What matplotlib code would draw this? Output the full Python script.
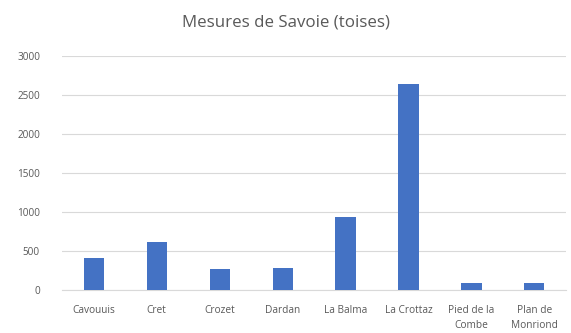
import matplotlib.pyplot as plt
import numpy as np

# data
places = ['Cavouuis', 'Cret', 'Crozet', 'Dardan', 'La Balma', 'La Crottaz',
          'Pied de la\nCombe', 'Plan de\nMonriond']
toises = [410, 620, 275, 285, 930, 2640, 85, 85]
yticks = [0, 500, 1000, 1500, 2000, 2500, 3000]

plt.rcParams['font.family'] = ['Open Sans', 'DejaVu Sans']

fig = plt.figure(figsize=(5.71, 3.33), dpi=100)
ax = fig.add_axes([0.109, 0.129, 0.882, 0.703])

x = np.arange(len(places))
ax.bar(x, toises, width=0.32, color='#4472C4', zorder=3)

ax.set_xlim(-0.5, len(places) - 0.5)
ax.set_ylim(0, 3000)
ax.set_yticks(yticks)
ax.set_xticks(x)
ax.set_xticklabels(places, fontsize=7.3, color='#595959', linespacing=1.45)
ax.tick_params(axis='y', labelsize=7.2, labelcolor='#595959', length=0, pad=16)
ax.tick_params(axis='x', length=0, pad=11)

ax.grid(axis='y', color='#d9d9d9', linewidth=0.8, zorder=0)
for s in ['top', 'right', 'left']:
    ax.spines[s].set_visible(False)
ax.spines['bottom'].set_color('#d9d9d9')

fig.text(0.5, 0.932, 'Mesures de Savoie (toises)', ha='center', va='center',
         fontsize=12.2, color='#595959')

fig.savefig('out.png', dpi=100)
